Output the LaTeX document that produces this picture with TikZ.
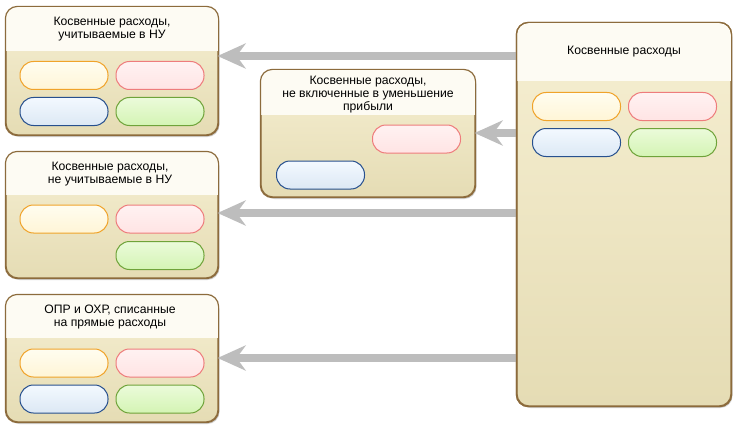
\documentclass[tikz,border=0pt]{standalone}
\usepackage{fontspec}
\setmainfont{Liberation Sans}
\usetikzlibrary{arrows.meta,shadows,positioning}
\definecolor{bordC}{HTML}{8C6B3C}
\definecolor{bodyTop}{HTML}{F6EFD2}
\definecolor{bodyBot}{HTML}{E5DCB4}
\definecolor{headC}{HTML}{FDFBF3}
\definecolor{arrC}{HTML}{BDBDBD}
\definecolor{yD}{HTML}{F0A32A}\definecolor{yT}{HTML}{FFFDF0}\definecolor{yB}{HTML}{FFF5D6}
\definecolor{rD}{HTML}{EE7C7C}\definecolor{rT}{HTML}{FFF2F2}\definecolor{rB}{HTML}{FFE4E4}
\definecolor{bD}{HTML}{27508E}\definecolor{bT}{HTML}{F3F9FF}\definecolor{bB}{HTML}{DCE8F4}
\definecolor{gD}{HTML}{6FA33A}\definecolor{gT}{HTML}{EBFBDA}\definecolor{gB}{HTML}{D4F4B4}
\tikzset{
  panel/.style={draw=bordC, line width=1.2pt, rounded corners=12pt, top color=bodyTop, bottom color=bodyBot,
    drop shadow={shadow xshift=1.5pt, shadow yshift=-2pt, opacity=0.35}, inner sep=0pt},
  title/.style={align=center, font=\fontsize{12.2}{13}\selectfont, inner sep=0pt},
  pill/.style={minimum width=88pt, minimum height=28pt, rounded corners=13.5pt, line width=1pt, inner sep=0pt},
  pY/.style={pill, draw=yD, top color=yT, bottom color=yB},
  pR/.style={pill, draw=rD, top color=rT, bottom color=rB},
  pB/.style={pill, draw=bD, top color=bT, bottom color=bB},
  pG/.style={pill, draw=gD, top color=gT, bottom color=gB},
  flow/.style={draw=arrC, line width=7.5pt, -{Stealth[length=28pt, width=25pt, inset=9pt]}, shorten >=-1pt}
}
\newcommand{\panelbox}[6]{% name, x1, y1, x2, y2, header bottom
  \node[panel, minimum width={(#4-#2)*1pt}, minimum height={(#5-#3)*1pt}] (#1) at ({(#2+#4)/2},{(#3+#5)/2}) {};
  \begin{scope}
    \clip[rounded corners=12pt] (#1.south west) rectangle (#1.north east);
    \fill[headC] (#1.north west) rectangle (#4,#6);
  \end{scope}
  \draw[bordC, line width=1.2pt, rounded corners=12pt] (#1.south west) rectangle (#1.north east);
}
\begin{document}
\begin{tikzpicture}[x=1pt,y=-1pt]
\useasboundingbox[fill=white] (0,0) rectangle (742,436);
% panels
\panelbox{C}{517}{23}{731}{406}{81}
\panelbox{A}{6}{7}{218}{135}{51}
\panelbox{B}{261}{70}{475}{197}{115}
\panelbox{D}{6}{152}{218}{278}{195}
\panelbox{E}{6}{295}{218}{422}{338}
% connectors
\coordinate (cA) at (517,56);
\coordinate (cB) at (517,133);
\coordinate (cD) at (517,213);
\coordinate (cE) at (517,358);
\draw[flow] (cA) -- (A.east |- cA);
\draw[flow] (cB) -- (B.east |- cB);
\draw[flow] (cD) -- (D.east |- cD);
\draw[flow] (cE) -- (E.east |- cE);
% redraw right panel edge over arrow starts
\draw[bordC, line width=1.2pt, rounded corners=12pt] (C.south west) rectangle (C.north east);
% titles
\node[title] (tA) at (112,29) {Косвенные расходы,\\учитываемые в НУ};
\node[title] (tB) at (368,95) {Косвенные расходы,\\не включенные в уменьшение\\прибыли};
\node[title] (tC) at (624,52) {Косвенные расходы};
\node[title] (tD) at (110,174) {Косвенные расходы,\\не учитываемые в НУ};
\node[title] (tE) at (110,317) {ОПР и ОХР, списанные\\на прямые расходы};
% pills
\node[pY] (Ay) at (64,75.5) {};
\node[pR] (Ar) at (160,75.5) {};
\node[pB] (Ab) at (64,111.5) {};
\node[pG] (Ag) at (160,111.5) {};
\node[pR] (Br) at (416.5,139) {};
\node[pB] (Bb) at (320.5,175) {};
\node[pY] (Cy) at (576.5,106.5) {};
\node[pR] (Cr) at (672.5,106.5) {};
\node[pB] (Cb) at (576.5,142.5) {};
\node[pG] (Cg) at (672.5,142.5) {};
\node[pY] (Dy) at (64,219) {};
\node[pR] (Dr) at (160,219) {};
\node[pG] (Dg) at (160,255.5) {};
\node[pY] (Ey) at (64,363) {};
\node[pR] (Er) at (160,363) {};
\node[pB] (Eb) at (64,399) {};
\node[pG] (Eg) at (160,399) {};
\end{tikzpicture}
\end{document}
